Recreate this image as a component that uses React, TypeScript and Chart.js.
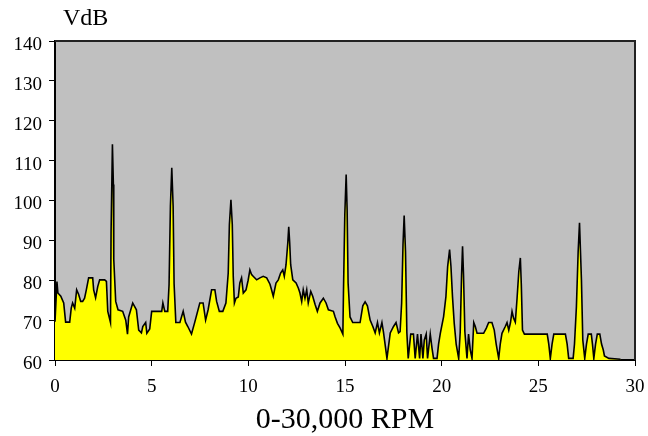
import React, { useEffect, useRef } from "react";
import { Chart, registerables } from "chart.js";
Chart.register(...registerables);

// RPM in thousands
const rpm = [
  0, 0.1, 0.15, 0.3, 0.45, 0.55, 0.76, 0.84, 0.91, 1.02,
  1.12, 1.22, 1.33, 1.43, 1.53, 1.62, 1.74, 1.95, 2.0, 2.1,
  2.21, 2.31, 2.57, 2.66, 2.73, 2.87, 2.9, 2.97, 3.02, 3.04,
  3.14, 3.26, 3.5, 3.66, 3.75, 3.81, 4.02, 4.21, 4.33, 4.47,
  4.54, 4.69, 4.75, 4.9, 5.0, 5.52, 5.58, 5.68, 5.83, 5.9,
  5.97, 6.04, 6.11, 6.16, 6.25, 6.46, 6.63, 6.75, 6.87, 7.06,
  7.23, 7.49, 7.66, 7.79, 7.92, 8.1, 8.27, 8.36, 8.5, 8.68,
  8.84, 8.96, 9.02, 9.1, 9.17, 9.22, 9.28, 9.36, 9.48, 9.56,
  9.65, 9.74, 9.88, 9.99, 10.08, 10.17, 10.25, 10.43, 10.6, 10.77,
  10.95, 11.12, 11.2, 11.29, 11.43, 11.55, 11.67, 11.78, 11.86, 11.95,
  12.04, 12.09, 12.14, 12.19, 12.3, 12.47, 12.59, 12.67, 12.76, 12.84,
  12.93, 13.02, 13.1, 13.23, 13.33, 13.45, 13.57, 13.71, 13.88, 14.02,
  14.14, 14.4, 14.49, 14.61, 14.75, 14.89, 14.92, 14.99, 15.06, 15.11,
  15.16, 15.26, 15.4, 15.78, 15.92, 16.04, 16.16, 16.3, 16.44, 16.56,
  16.68, 16.78, 16.91, 16.99, 17.17, 17.34, 17.51, 17.64, 17.77, 17.85,
  17.93, 18.0, 18.06, 18.13, 18.2, 18.27, 18.4, 18.54, 18.63, 18.75,
  18.86, 18.93, 19.03, 19.1, 19.2, 19.27, 19.41, 19.5, 19.58, 19.76,
  19.84, 19.93, 20.1, 20.22, 20.31, 20.41, 20.48, 20.56, 20.65, 20.75,
  20.88, 20.96, 21.03, 21.08, 21.13, 21.2, 21.31, 21.39, 21.48, 21.57,
  21.66, 21.74, 21.83, 22.17, 22.31, 22.43, 22.6, 22.72, 22.82, 22.95,
  23.03, 23.12, 23.29, 23.38, 23.47, 23.56, 23.64, 23.72, 23.81, 23.9,
  23.99, 24.07, 24.12, 24.18, 24.28, 25.46, 25.54, 25.62, 25.71, 25.8,
  26.4, 26.49, 26.57, 26.8, 26.87, 26.97, 27.06, 27.13, 27.23, 27.3,
  27.4, 27.49, 27.58, 27.74, 27.8, 27.87, 27.96, 28.05, 28.18, 28.27,
  28.36, 28.42, 28.65, 29.25,
];

const vdb = [
  69.6, 79.7, 76.8, 76, 74.3, 69.5, 69.5, 73, 74.3, 73,
  77.6, 76.5, 74.7, 74.7, 75.5, 77.6, 80.6, 80.6, 77.6, 75.6,
  78.4, 80.1, 80.1, 79.7, 72.2, 69.4, 92, 114.1, 104, 85.2,
  74.7, 72.6, 72.2, 70, 66.5, 70.8, 74.3, 72.6, 67.5, 66.8,
  68.4, 69.4, 66.7, 67.8, 72.2, 72.2, 74.3, 72.2, 72.2, 78.9,
  98.6, 108.2, 98.6, 79.1, 69.4, 69.4, 72.2, 69.5, 68.4, 66.5,
  69.5, 74.3, 74.3, 70, 72.6, 77.6, 77.6, 74.7, 72.2, 72.2,
  74.3, 81.8, 94, 100.2, 94, 81, 74.3, 75.5, 75.8, 79.3,
  80.6, 76.8, 77.6, 80, 82.6, 81.4, 81, 80.1, 80.6, 81,
  80.6, 79, 77.6, 76, 79.3, 80.1, 81.8, 82.6, 81, 83.9,
  89.3, 93.4, 89.3, 83.9, 80.1, 79.3, 78, 76.8, 74.7, 77.6,
  75.5, 77.6, 74.3, 77.2, 76, 74, 72.2, 74.3, 75.5, 74.3,
  72.6, 72.2, 70.8, 69.2, 68, 66.5, 76.8, 96.5, 106.5, 97.7,
  79.3, 70.8, 69.4, 69.4, 73.6, 74.6, 73.6, 70, 68.4, 66.8,
  69.4, 66.8, 69.4, 67, 60.4, 66.8, 68.4, 69.4, 66.8, 67.1,
  74.3, 88.9, 96.2, 87.2, 66.8, 60.4, 66.5, 66.5, 60.4, 66.5,
  60.4, 66.5, 60.4, 65, 66.5, 60.4, 66.5, 63, 60.4, 60.4,
  64, 66.7, 70.9, 75.9, 83.5, 87.7, 83.5, 75.9, 69.2, 64,
  60.4, 67.1, 81.4, 88.5, 81.4, 67.1, 60.4, 66.5, 62.5, 60.4,
  69.4, 68.4, 66.7, 66.7, 68, 69.4, 69.4, 67.5, 64, 60.4,
  64, 66.7, 68.4, 69.4, 67.5, 69.4, 72.2, 70.5, 69.5, 75.5,
  82.2, 85.6, 78.9, 67.5, 66.5, 66.5, 64, 60.4, 64, 66.5,
  66.5, 64, 60.4, 60.4, 64, 73.4, 87.2, 94.4, 80.1, 65,
  60.4, 64, 66.5, 66.5, 64, 60.4, 64, 66.5, 66.5, 64,
  62.5, 61, 60.4, 60.2,
];

const xTicks = [0, 5, 10, 15, 20, 25, 30];
const yTicks = [60, 70, 80, 90, 100, 110, 120, 130, 140];

const FONT = "'Liberation Serif', 'Times New Roman', serif";

export default function App() {
  const ref = useRef<HTMLCanvasElement>(null);

  useEffect(() => {
    document.body.style.margin = "0";
    const canvas = ref.current;
    if (!canvas) return;
    const points = rpm.map((x, i) => ({ x, y: vdb[i] }));

    const framePlugin = {
      id: "plotFrame",
      beforeDraw(chart: any) {
        const { ctx, chartArea: a } = chart;
        ctx.save();
        ctx.fillStyle = "#C0C0C0";
        ctx.fillRect(a.left, a.top, a.right - a.left, a.bottom - a.top);
        ctx.restore();
      },
      afterDraw(chart: any) {
        const { ctx, chartArea: a } = chart;
        ctx.save();
        ctx.strokeStyle = "#222";
        ctx.lineWidth = 2;
        ctx.beginPath();
        ctx.moveTo(a.left, a.top);
        ctx.lineTo(a.right, a.top);
        ctx.lineTo(a.right, a.bottom);
        ctx.stroke();
        ctx.fillStyle = "#000";
        ctx.font = `24px ${FONT}`;
        ctx.textBaseline = "middle";
        ctx.textAlign = "left";
        ctx.fillText("VdB", 63, 18.5);
        ctx.restore();
      },
    };

    const chart = new Chart(canvas, {
      type: "line",
      data: {
        datasets: [
          {
            data: points,
            borderColor: "#000",
            borderWidth: 1.6,
            backgroundColor: "#FFFF00",
            fill: "start",
            pointRadius: 0,
            tension: 0,
          },
        ],
      },
      options: {
        animation: false,
        responsive: false,
        layout: { padding: { top: 41, right: 13, left: 0, bottom: 0 } },
        plugins: {
          legend: { display: false },
          tooltip: { enabled: false },
        },
        scales: {
          x: {
            type: "linear",
            min: 0,
            max: 30,
            afterBuildTicks: (s: any) => {
              s.ticks = xTicks.map((v) => ({ value: v }));
            },
            afterFit: (s: any) => {
              s.height = 76;
              s.paddingLeft = 0;
              s.paddingRight = 0;
            },
            grid: {
              display: true,
              drawOnChartArea: false,
              drawTicks: true,
              tickLength: 6,
              color: "#000",
            },
            border: { display: true, color: "#000", width: 2 },
            ticks: {
              color: "#000",
              font: { family: FONT, size: 19 },
              padding: 10,
              maxRotation: 0,
              autoSkip: false,
            },
            title: {
              display: true,
              text: "0-30,000 RPM",
              color: "#000",
              font: { family: FONT, size: 30, lineHeight: 1 },
              padding: { top: 0, bottom: 1 },
            },
          },
          y: {
            type: "linear",
            min: 60,
            max: 140,
            afterBuildTicks: (s: any) => {
              s.ticks = yTicks.map((v) => ({ value: v }));
            },
            afterFit: (s: any) => {
              s.width = 55;
              s.paddingTop = 0;
              s.paddingBottom = 0;
            },
            grid: {
              display: true,
              drawOnChartArea: false,
              drawTicks: true,
              tickLength: 6,
              color: "#000",
            },
            border: { display: true, color: "#000", width: 2 },
            ticks: {
              color: "#000",
              font: { family: FONT, size: 19 },
              padding: 7,
              labelOffset: 4,
              autoSkip: false,
            },
          },
        },
      },
      plugins: [framePlugin],
    });

    return () => chart.destroy();
  }, []);

  return (
    <div style={{ width: 648, height: 436 }}>
      <canvas ref={ref} width={648} height={436} style={{ display: "block" }} />
    </div>
  );
}
